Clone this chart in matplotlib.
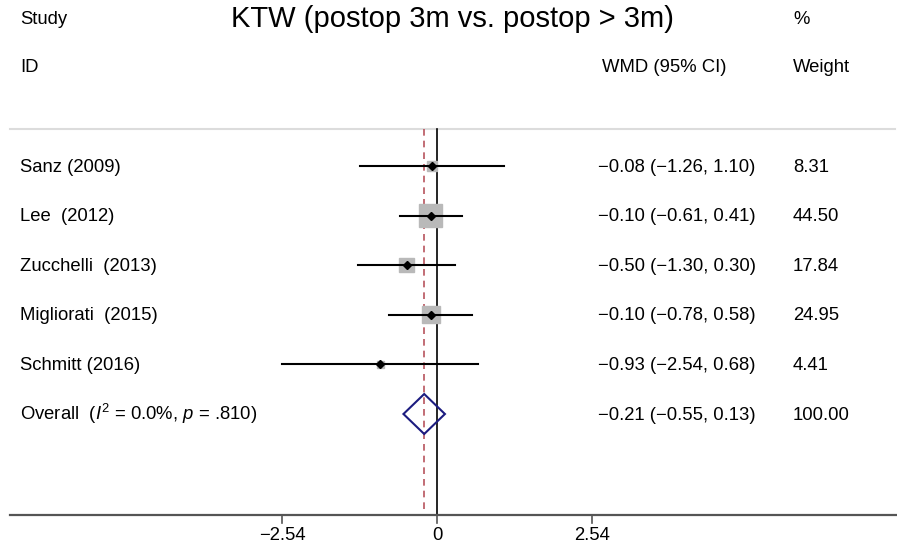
import matplotlib
matplotlib.use("Agg")
import matplotlib.pyplot as plt
import matplotlib.transforms as mtransforms
import numpy as np

matplotlib.rcParams.update(
    {
        "font.family": "Liberation Sans",
        "mathtext.fontset": "custom",
        "mathtext.rm": "Liberation Sans",
        "mathtext.it": "Liberation Sans:italic",
    }
)

# ── Datos ──────────────────────────────────────────────────────────────────────
studies = ["Sanz (2009)", "Lee  (2012)", "Zucchelli  (2013)", "Migliorati  (2015)", "Schmitt (2016)"]
wmd = [-0.08, -0.10, -0.50, -0.10, -0.93]
ci_low = [-1.26, -0.61, -1.30, -0.78, -2.54]
ci_high = [1.10, 0.41, 0.30, 0.58, 0.68]
weights = [8.31, 44.50, 17.84, 24.95, 4.41]

overall = -0.21
overall_low = -0.55
overall_high = 0.13
overall_label = r"Overall  ($\mathit{I}^{2}$ = 0.0%, $\mathit{p}$ = .810)"

ticks = [-2.54, 0, 2.54]
tick_labels = ["\u22122.54", "0", "2.54"]


def fmt(v):
    return f"{v:.2f}".replace("-", "\u2212")


# ── Figura (coordenadas y en píxeles, x en unidades de WMD) ───────────────────
W, H = 897, 549
fig = plt.figure(figsize=(W / 100, H / 100), dpi=100)
ax = fig.add_axes([0, 0, 1, 1])
x0_px, px_per_unit = 437, 61.0
ax.set_xlim(-x0_px / px_per_unit, (W - x0_px) / px_per_unit)
ax.set_ylim(H, 0)
ax.axis("off")
trans = mtransforms.blended_transform_factory(ax.transAxes, ax.transData)

row0, step = 166, 49.6
rows = row0 + step * np.arange(len(studies))
y_over = row0 + step * len(studies)
y_top, y_axis = 129, 515

# encabezados
fs = 13.3
ax.text(20 / W, 19, "Study", transform=trans, fontsize=fs, va="center")
ax.text(20 / W, 68, "ID", transform=trans, fontsize=fs, va="center")
ax.text(452 / W, 19, "KTW (postop 3m vs. postop > 3m)", transform=trans,
        fontsize=21, va="center", ha="center")
ax.text(793 / W, 19, "%", transform=trans, fontsize=fs, va="center")
ax.text(602 / W, 68, "WMD (95% CI)", transform=trans, fontsize=fs, va="center")
ax.text(793 / W, 68, "Weight", transform=trans, fontsize=fs, va="center")

# líneas de referencia
ax.plot([10 / W, 895 / W], [y_top, y_top], transform=trans, color="#dcdcdc", lw=1.5)
ax.plot([0, 0], [y_top, y_axis], color="black", lw=1.2, zorder=2)
ax.plot([overall, overall], [y_top, y_axis], color="#b8545e", lw=1.2,
        ls=(0, (4, 3)), zorder=2)

# estudios
for y, name, m, lo, hi, w in zip(rows, studies, wmd, ci_low, ci_high, weights):
    side = 3.45 * np.sqrt(w) / px_per_unit
    hh = 3.45 * np.sqrt(w) / 2
    ax.add_patch(plt.Rectangle((m - side / 2, y - hh), side, 2 * hh,
                               color="#b9b9b9", zorder=3))
    ax.plot([lo, hi], [y, y], color="black", lw=1.5, zorder=4)
    ax.plot(m, y, marker="D", color="black", ms=4.5, zorder=5)
    ax.text(20 / W, y + 1, name, transform=trans, fontsize=fs, va="center")
    ax.text(598 / W, y + 1, f"{fmt(m)} ({fmt(lo)}, {fmt(hi)})", transform=trans,
            fontsize=fs, va="center")
    ax.text(793 / W, y + 1, f"{w:.2f}", transform=trans, fontsize=fs, va="center")

# diamante global
dh = 20
ax.fill([overall_low, overall, overall_high, overall],
        [y_over, y_over - dh, y_over, y_over + dh],
        facecolor="none", edgecolor="#1c1c80", lw=1.5, zorder=5)
ax.text(20 / W, y_over, overall_label, transform=trans, fontsize=fs, va="center")
ax.text(598 / W, y_over + 1, f"{fmt(overall)} ({fmt(overall_low)}, {fmt(overall_high)})",
        transform=trans, fontsize=fs, va="center")
ax.text(793 / W, y_over + 1, "100.00", transform=trans, fontsize=fs, va="center")

# eje x
ax.plot([10 / W, 1], [y_axis, y_axis], transform=trans, color="#555555", lw=1.6)
for t, lab in zip(ticks, tick_labels):
    ax.plot([t, t], [y_axis, y_axis + 8], color="#555555", lw=1.2)
    ax.text(t, y_axis + 21, lab, fontsize=fs, ha="center", va="center")

fig.savefig("out.png", dpi=100, facecolor="white")
